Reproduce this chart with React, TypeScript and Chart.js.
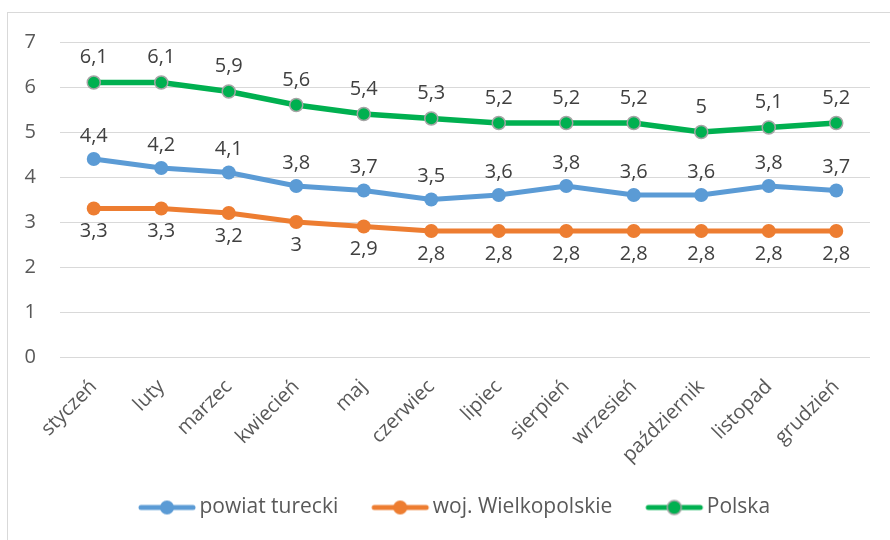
import React, { useEffect, useRef } from "react";
import { Chart, registerables } from "chart.js";

Chart.register(...registerables);

const months = [
  "styczeń", "luty", "marzec", "kwiecień", "maj", "czerwiec",
  "lipiec", "sierpień", "wrzesień", "październik", "listopad", "grudzień",
];
const powiatTurecki = [4.4, 4.2, 4.1, 3.8, 3.7, 3.5, 3.6, 3.8, 3.6, 3.6, 3.8, 3.7];
const wojWielkopolskie = [3.3, 3.3, 3.2, 3.0, 2.9, 2.8, 2.8, 2.8, 2.8, 2.8, 2.8, 2.8];
const polska = [6.1, 6.1, 5.9, 5.6, 5.4, 5.3, 5.2, 5.2, 5.2, 5.0, 5.1, 5.2];
const yTicks = [0, 1, 2, 3, 4, 5, 6, 7];

const FONT = "'Open Sans', 'Noto Sans', sans-serif";
const FS = 20;
const LEGEND_FS = 21;

function legendIcon(color: string, border?: string): HTMLCanvasElement {
  const c = document.createElement("canvas");
  c.width = 60;
  c.height = 18;
  const ctx = c.getContext("2d")!;
  ctx.strokeStyle = color;
  ctx.lineWidth = 5;
  ctx.lineCap = "round";
  ctx.beginPath();
  ctx.moveTo(4, 9);
  ctx.lineTo(56, 9);
  ctx.stroke();
  ctx.beginPath();
  ctx.arc(30, 9, 7, 0, Math.PI * 2);
  ctx.fillStyle = color;
  ctx.fill();
  if (border) {
    ctx.lineWidth = 1.5;
    ctx.strokeStyle = border;
    ctx.stroke();
  }
  return c;
}

// label offset per dataset: blue above, orange below, green above
const labelOffsets = [-23, 23, -25];

const dataLabels = {
  id: "dataLabels",
  afterDatasetsDraw(chart: any) {
    const ctx = chart.ctx;
    ctx.save();
    ctx.font = `${FS}px ${FONT}`;
    ctx.fillStyle = "#404040";
    ctx.textAlign = "center";
    ctx.textBaseline = "middle";
    chart.data.datasets.forEach((ds: any, i: number) => {
      const meta = chart.getDatasetMeta(i);
      meta.data.forEach((pt: any, j: number) => {
        const v = ds.data[j];
        ctx.fillText(String(v).replace(".", ","), pt.x, pt.y + labelOffsets[i]);
      });
    });
    ctx.restore();
  },
};

const frame = {
  id: "frame",
  beforeDraw(chart: any) {
    const ctx = chart.ctx;
    ctx.save();
    ctx.fillStyle = "#ffffff";
    ctx.fillRect(0, 0, chart.width, chart.height);
    ctx.strokeStyle = "#d9d9d9";
    ctx.lineWidth = 1;
    ctx.strokeRect(7.5, 12.5, chart.width + 10, chart.height + 10);
    ctx.restore();
  },
};

const legendShift = {
  id: "legendShift",
  afterLayout(chart: any) {
    const lg = chart.legend;
    if (lg) {
      lg.left += 19;
      lg.right += 19;
      lg.top -= 12;
      lg.bottom -= 12;
    }
  },
};

export default function App() {
  const ref = useRef<HTMLCanvasElement>(null);
  useEffect(() => {
    const icons = [
      legendIcon("#5B9BD5"),
      legendIcon("#ED7D31"),
      legendIcon("#00B050", "#A5A5A5"),
    ];
    const chart = new Chart(ref.current!, {
      type: "line",
      data: {
        labels: months,
        datasets: [
          {
            label: "powiat turecki",
            data: powiatTurecki,
            borderColor: "#5B9BD5",
            backgroundColor: "#5B9BD5",
            pointBackgroundColor: "#5B9BD5",
            pointBorderColor: "#5B9BD5",
            borderWidth: 5,
            pointRadius: 7,
            pointBorderWidth: 0,
          },
          {
            label: "woj. Wielkopolskie",
            data: wojWielkopolskie,
            borderColor: "#ED7D31",
            backgroundColor: "#ED7D31",
            pointBackgroundColor: "#ED7D31",
            pointBorderColor: "#ED7D31",
            borderWidth: 5,
            pointRadius: 7,
            pointBorderWidth: 0,
          },
          {
            label: "Polska",
            data: polska,
            borderColor: "#00B050",
            backgroundColor: "#00B050",
            pointBackgroundColor: "#00B050",
            pointBorderColor: "#A5A5A5",
            borderWidth: 5.5,
            pointRadius: 6.5,
            pointBorderWidth: 1.5,
          },
        ],
      },
      options: {
        animation: false,
        responsive: false,
        layout: { padding: { left: 7, top: 42, right: 20, bottom: 0 } },
        plugins: {
          tooltip: { enabled: false },
          legend: {
            position: "bottom",
            labels: {
              usePointStyle: true,
              pointStyleWidth: 44,
              boxHeight: 16,
              padding: 40,
              color: "#595959",
              font: { family: FONT, size: LEGEND_FS },
              generateLabels: (c: any) =>
                c.data.datasets.map((ds: any, i: number) => ({
                  text: ds.label,
                  pointStyle: icons[i],
                  fillStyle: ds.borderColor,
                  strokeStyle: ds.borderColor,
                  lineWidth: 0,
                  datasetIndex: i,
                  hidden: false,
                  fontColor: "#595959",
                })),
            },
          },
        },
        scales: {
          x: {
            offset: true,
            grid: { display: false, drawTicks: false },
            border: { display: false },
            ticks: {
              color: "#595959",
              font: { family: FONT, size: FS },
              maxRotation: 45,
              minRotation: 45,
              padding: 18,
              autoSkip: false,
            },
            afterFit: (axis: any) => {
              axis.height = 112;
            },
          },
          y: {
            min: 0,
            max: 7,
            afterBuildTicks: (axis: any) => {
              axis.ticks = yTicks.map((v) => ({ value: v }));
            },
            grid: { color: "#d9d9d9", lineWidth: 1, drawTicks: false },
            border: { display: false },
            ticks: {
              color: "#595959",
              font: { family: FONT, size: FS },
              padding: 24,
            },
            afterFit: (axis: any) => {
              axis.width = 53;
            },
          },
        },
      },
      plugins: [frame, legendShift, dataLabels],
    });
    return () => chart.destroy();
  }, []);
  return (
    <div style={{ position: "fixed", left: 0, top: 0, width: 890, height: 540 }}>
      <canvas ref={ref} width={890} height={540} style={{ display: "block" }} />
    </div>
  );
}
